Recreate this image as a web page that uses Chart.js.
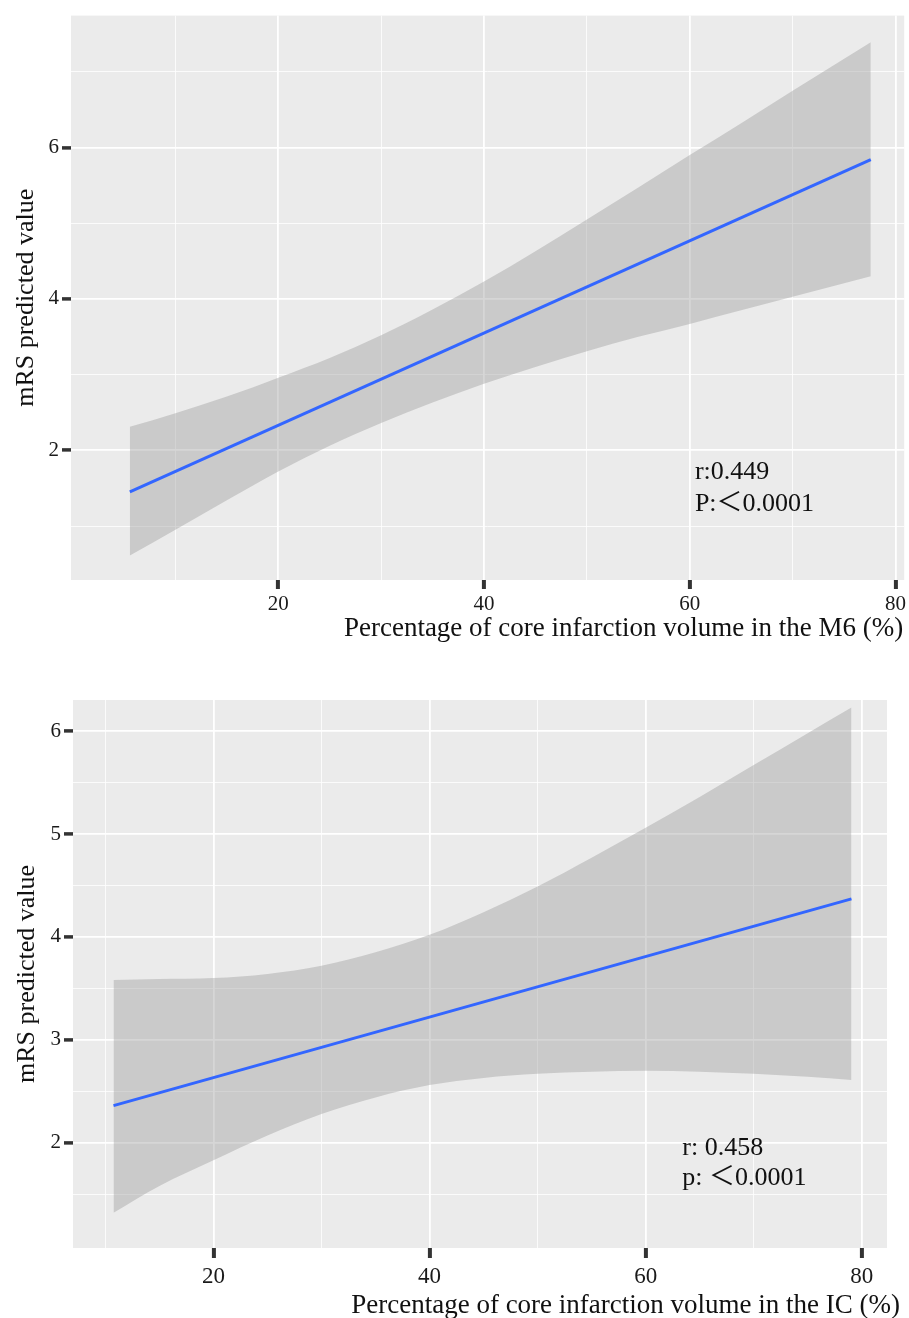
<!DOCTYPE html>
<html lang="en">
<head>
  <meta charset="UTF-8">
  <title>mRS predicted value vs core infarction volume</title>
  <script src="https://cdn.jsdelivr.net/npm/chart.js"></script>
  <style>
    body { margin: 0; background: #fff; }
    .wrap { position: relative; width: 909px; height: 1318px; }
    canvas { position: absolute; left: 0; display: block; }
    #m6Chart { top: 0; }
    #icChart { top: 660px; }
  </style>
</head>
<body>
  <div class="wrap">
    <canvas id="m6Chart" width="909" height="660"></canvas>
    <canvas id="icChart" width="909" height="658"></canvas>
  </div>

  <script>
    // ---- panel 1: M6 ----
    const m6BandX = [5.57, 10, 15, 20, 25, 30, 35, 40, 45, 50, 55, 60, 65, 70, 77.6];
    const m6Upper = [2.31, 2.49, 2.71, 2.96, 3.22, 3.52, 3.86, 4.23, 4.63, 5.05, 5.47, 5.90, 6.32, 6.75, 7.39];
    const m6Lower = [0.61, 0.95, 1.34, 1.72, 2.06, 2.36, 2.63, 2.88, 3.10, 3.31, 3.50, 3.67, 3.85, 4.03, 4.30];
    const m6FitX = [5.57, 77.6];
    const m6FitY = [1.45, 5.84];
    const m6XTicks = [20, 40, 60, 80];
    const m6XMinor = [10, 30, 50, 70];
    const m6YTicks = [2, 4, 6];
    const m6YMinor = [1, 3, 5, 7];
    const m6Note = ['r:0.449', 'P:\uFF1C0.0001'];

    // ---- panel 2: IC ----
    const icBandX = [10.75, 15, 20, 25, 30, 35, 40, 45, 50, 55, 60, 65, 70, 75, 79.05];
    const icUpper = [3.58, 3.59, 3.60, 3.64, 3.72, 3.85, 4.02, 4.24, 4.49, 4.77, 5.06, 5.36, 5.67, 5.98, 6.23];
    const icLower = [1.32, 1.58, 1.83, 2.07, 2.28, 2.44, 2.56, 2.63, 2.67, 2.69, 2.70, 2.69, 2.67, 2.64, 2.61];
    const icFitX = [10.75, 79.05];
    const icFitY = [2.36, 4.37];
    const icXTicks = [20, 40, 60, 80];
    const icXMinor = [10, 30, 50, 70];
    const icYTicks = [2, 3, 4, 5, 6];
    const icYMinor = [1.5, 2.5, 3.5, 4.5, 5.5];
    const icNote = ['r: 0.458', 'p: \uFF1C0.0001'];

    const SERIF = "'Liberation Serif', 'Times New Roman', serif";
    const pts = (xs, ys) => xs.map((x, i) => ({ x, y: ys[i] }));

    // grey ggplot panel
    const panelBg = {
      id: 'panelBg',
      beforeDraw(chart) {
        const { ctx, chartArea: a } = chart;
        ctx.save();
        ctx.fillStyle = '#EBEBEB';
        ctx.fillRect(a.left, a.top, a.right - a.left, a.bottom - a.top);
        ctx.restore();
      }
    };

    // r / p note and the x-axis title
    const textBits = {
      id: 'textBits',
      afterDraw(chart, args, o) {
        const { ctx, chartArea: a, scales: { x, y } } = chart;
        ctx.save();
        ctx.fillStyle = '#111';
        ctx.textBaseline = 'alphabetic';
        ctx.font = `26px ${SERIF}, 'Noto Sans CJK SC'`;
        ctx.textAlign = 'left';
        const nx = x.getPixelForValue(o.noteAt[0]);
        const ny = y.getPixelForValue(o.noteAt[1]);
        o.note.forEach((line, i) => ctx.fillText(line, nx, ny + i * o.noteGap));
        ctx.font = `27px ${SERIF}`;
        ctx.textAlign = 'right';
        ctx.fillText(o.xTitle, a.right + o.xTitleShift, chart.height - o.xTitleBottom);
        ctx.restore();
      }
    };

    function panelConfig(p) {
      const majX = new Set(p.xTicks), majY = new Set(p.yTicks);
      const allX = [...p.xMinor, ...p.xTicks].sort((a, b) => a - b);
      const allY = [...p.yMinor, ...p.yTicks].sort((a, b) => a - b);
      const isMaj = (set, c) => c.tick && set.has(c.tick.value);

      return {
        type: 'line',
        data: {
          datasets: [
            {
              data: pts(p.fitX, p.fitY),
              borderColor: '#3366FF',
              borderWidth: 3,
              pointRadius: 0,
              fill: false
            },
            {
              data: pts(p.bandX, p.lower),
              borderColor: 'rgba(0,0,0,0)',
              borderWidth: 0,
              pointRadius: 0,
              cubicInterpolationMode: 'monotone',
              fill: false
            },
            {
              data: pts(p.bandX, p.upper),
              borderColor: 'rgba(0,0,0,0)',
              borderWidth: 0,
              pointRadius: 0,
              cubicInterpolationMode: 'monotone',
              backgroundColor: 'rgba(153,153,153,0.4)',
              fill: 1
            }
          ]
        },
        options: {
          responsive: false,
          animation: false,
          events: [],
          layout: { padding: p.pad },
          plugins: {
            legend: { display: false },
            tooltip: { enabled: false },
            textBits: p.text
          },
          scales: {
            x: {
              type: 'linear',
              min: p.xRange[0],
              max: p.xRange[1],
              afterBuildTicks: ax => { ax.ticks = allX.map(v => ({ value: v })); },
              afterFit: ax => { ax.height = p.xAxisH; },
              border: { display: false },
              grid: {
                color: '#FFFFFF',
                lineWidth: c => isMaj(majX, c) ? 1.8 : 0.8,
                tickColor: c => isMaj(majX, c) ? '#333333' : 'rgba(0,0,0,0)',
                tickWidth: 4,
                tickLength: p.xTickLen
              },
              ticks: {
                autoSkip: false,
                maxRotation: 0,
                padding: p.xTickPad,
                color: '#1a1a1a',
                font: { family: SERIF, size: p.xTickSize },
                callback: v => majX.has(v) ? String(v) : ''
              }
            },
            y: {
              type: 'linear',
              min: p.yRange[0],
              max: p.yRange[1],
              afterBuildTicks: ax => { ax.ticks = allY.map(v => ({ value: v })); },
              afterFit: ax => { ax.width = p.yAxisW; },
              border: { display: false },
              grid: {
                color: '#FFFFFF',
                lineWidth: c => isMaj(majY, c) ? 1.8 : 0.8,
                tickColor: c => isMaj(majY, c) ? '#333333' : 'rgba(0,0,0,0)',
                tickWidth: 3.5,
                tickLength: 9
              },
              ticks: {
                autoSkip: false,
                padding: 3,
                color: '#1a1a1a',
                font: { family: SERIF, size: 21 },
                callback: v => majY.has(v) ? String(v) : ''
              },
              title: {
                display: true,
                text: 'mRS predicted value',
                color: '#111',
                font: { family: SERIF, size: 26 },
                padding: { top: p.yTitlePad, bottom: 0 }
              }
            }
          }
        },
        plugins: [panelBg, textBits]
      };
    }

    new Chart(document.getElementById('m6Chart'), panelConfig({
      bandX: m6BandX, upper: m6Upper, lower: m6Lower,
      fitX: m6FitX, fitY: m6FitY,
      xTicks: m6XTicks, xMinor: m6XMinor, yTicks: m6YTicks, yMinor: m6YMinor,
      xRange: [-0.15, 80.85], yRange: [0.287, 7.742],
      pad: { top: 13, right: 3, bottom: 0, left: 0 },
      xAxisH: 80, yAxisW: 71, xTickLen: 9, xTickPad: 3, xTickSize: 21, yTitlePad: 11,
      text: {
        note: m6Note, noteAt: [60.5, 1.624], noteGap: 32,
        xTitle: 'Percentage of core infarction volume in the M6 (%)',
        xTitleShift: -1, xTitleBottom: 24
      }
    }));

    new Chart(document.getElementById('icChart'), panelConfig({
      bandX: icBandX, upper: icUpper, lower: icLower,
      fitX: icFitX, fitY: icFitY,
      xTicks: icXTicks, xMinor: icXMinor, yTicks: icYTicks, yMinor: icYMinor,
      xRange: [7.0, 82.34], yRange: [0.977, 6.302],
      pad: { top: 40, right: 22, bottom: 0, left: 0 },
      xAxisH: 70, yAxisW: 73, xTickLen: 10, xTickPad: 5, xTickSize: 23, yTitlePad: 12,
      text: {
        note: icNote, noteAt: [63.4, 1.88], noteGap: 30,
        xTitle: 'Percentage of core infarction volume in the IC (%)',
        xTitleShift: 13, xTitleBottom: 5
      }
    }));
  </script>
</body>
</html>
